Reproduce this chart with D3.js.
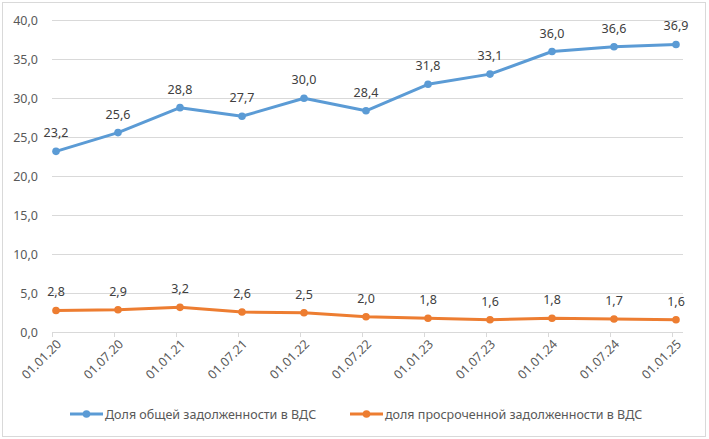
<!DOCTYPE html>
<html>
<head>
<meta charset="utf-8">
<script src="https://cdn.jsdelivr.net/npm/d3@7"></script>
<style>
  body { margin: 0; background: #fff; }
  text { font-family: "Noto Sans", "Open Sans", sans-serif; fill: #595959; }
</style>
</head>
<body>
<svg id="chart"></svg>
<script>
const dates = ['01.01.20', '01.07.20', '01.01.21', '01.07.21', '01.01.22', '01.07.22',
               '01.01.23', '01.07.23', '01.01.24', '01.07.24', '01.01.25']
const totalDebt   = [23.2, 25.6, 28.8, 27.7, 30.0, 28.4, 31.8, 33.1, 36.0, 36.6, 36.9]
const overdueDebt = [2.8, 2.9, 3.2, 2.6, 2.5, 2.0, 1.8, 1.6, 1.8, 1.7, 1.6]
const yTicks = [0, 5, 10, 15, 20, 25, 30, 35, 40]
const seriesNames = ['Доля общей задолженности в ВДС', 'доля просроченной задолженности в ВДС']
const colors = ['#5b9bd5', '#ed7d31']

const width = 709, height = 439
const fmt = v => v.toFixed(1).replace('.', ',')

const svg = d3.select('#chart')
    .attr('width', width)
    .attr('height', height)

svg.append('rect')
    .attr('x', 2.5).attr('y', 2.5)
    .attr('width', 703).attr('height', 434)
    .attr('fill', '#fff')
    .attr('stroke', '#d9d9d9')

const x = d3.scalePoint()
    .domain(dates)
    .range([56, 676])

const y = d3.scaleLinear()
    .domain([0, 40])
    .range([332.3, 20.3])

// grid
svg.append('g')
    .selectAll('line')
    .data(yTicks)
    .enter()
    .append('line')
    .attr('x1', 52).attr('x2', 683)
    .attr('y1', d => Math.round(y(d)) + 0.5)
    .attr('y2', d => Math.round(y(d)) + 0.5)
    .attr('stroke', '#d9d9d9')

// y labels
svg.append('g')
    .selectAll('text')
    .data(yTicks)
    .enter()
    .append('text')
    .attr('x', 38)
    .attr('y', d => y(d) + 4.5)
    .attr('text-anchor', 'end')
    .attr('font-size', 12.5)
    .text(fmt)

// x ticks
svg.append('g')
    .selectAll('line')
    .data(dates)
    .enter()
    .append('line')
    .attr('x1', d => Math.round(x(d) - 4) + 0.5)
    .attr('x2', d => Math.round(x(d) - 4) + 0.5)
    .attr('y1', 332.5).attr('y2', 337)
    .attr('stroke', '#d9d9d9')

// x labels
svg.append('g')
    .selectAll('text')
    .data(dates)
    .enter()
    .append('text')
    .attr('transform', d => 'translate(' + (x(d) + 6) + ',345) rotate(-45)')
    .attr('text-anchor', 'end')
    .attr('font-size', 12.5)
    .text(d => d)

const line = d3.line()
    .x((d, i) => x(dates[i]))
    .y(d => y(d))

;[totalDebt, overdueDebt].forEach((values, k) => {
    const g = svg.append('g')
    g.append('path')
        .datum(values)
        .attr('d', line)
        .attr('fill', 'none')
        .attr('stroke', colors[k])
        .attr('stroke-width', 3)
        .attr('stroke-linejoin', 'round')
    g.selectAll('circle')
        .data(values)
        .enter()
        .append('circle')
        .attr('cx', (d, i) => x(dates[i]))
        .attr('cy', d => y(d))
        .attr('r', 3.8)
        .attr('fill', colors[k])
    g.selectAll('text')
        .data(values)
        .enter()
        .append('text')
        .attr('x', (d, i) => x(dates[i]))
        .attr('y', d => y(d) - 14)
        .attr('text-anchor', 'middle')
        .attr('font-size', 12.5)
        .attr('fill', '#404040')
        .style('fill', '#404040')
        .text(fmt)
})

// legend
const legendX = [70, 350]
seriesNames.forEach((name, k) => {
    const g = svg.append('g')
        .attr('transform', 'translate(' + legendX[k] + ',414)')
    g.append('line')
        .attr('x1', 0).attr('x2', 33)
        .attr('stroke', colors[k])
        .attr('stroke-width', 3)
    g.append('circle')
        .attr('cx', 16.5).attr('r', 3.8)
        .attr('fill', colors[k])
    g.append('text')
        .attr('x', 35)
        .attr('y', 4.5)
        .attr('font-size', 12.5)
        .text(name)
})
</script>
</body>
</html>
